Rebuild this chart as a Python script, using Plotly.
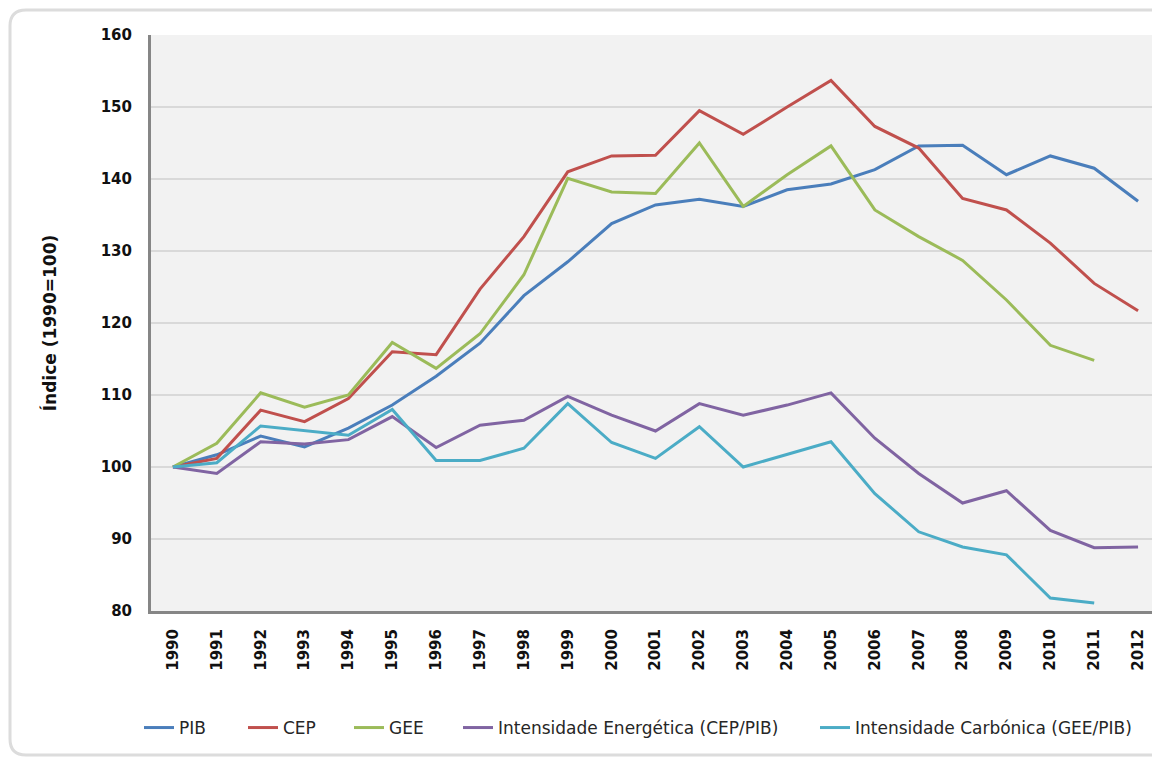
import plotly.graph_objects as go

years = [str(y) for y in range(1990, 2013)]

pib = [100, 101.7, 104.3, 102.8, 105.4, 108.6, 112.6, 117.2, 123.8, 128.5, 133.8, 136.4,
       137.2, 136.2, 138.5, 139.3, 141.3, 144.6, 144.7, 140.6, 143.2, 141.5, 136.9]
cep = [100, 101.2, 107.9, 106.3, 109.5, 116.0, 115.6, 124.7, 132.0, 141.0, 143.2, 143.3,
       149.5, 146.2, 150.0, 153.7, 147.3, 144.3, 137.3, 135.7, 131.1, 125.5, 121.7]
gee = [100, 103.3, 110.3, 108.3, 110.0, 117.3, 113.7, 118.5, 126.7, 140.1, 138.2, 138.0,
       145.0, 136.2, 140.6, 144.6, 135.7, 132.0, 128.7, 123.2, 116.9, 114.8, None]
int_energ = [100, 99.1, 103.5, 103.2, 103.8, 107.0, 102.7, 105.8, 106.5, 109.8, 107.2, 105.0,
             108.8, 107.2, 108.6, 110.3, 104.0, 99.1, 95.0, 96.7, 91.2, 88.8, 88.9]
int_carb = [100, 100.6, 105.7, 105.0, 104.4, 108.0, 100.9, 100.9, 102.6, 108.8, 103.4, 101.2,
            105.6, 100.0, 101.8, 103.5, 96.3, 91.0, 88.9, 87.8, 81.8, 81.1, None]

names = ["PIB", "CEP", "GEE", "Intensidade Energética (CEP/PIB)", "Intensidade Carbónica (GEE/PIB)"]
colors = ["#4a7ebb", "#c0504d", "#9bbb59", "#8064a2", "#4bacc6"]
series = [pib, cep, gee, int_energ, int_carb]

W, H = 1152, 754
L, R, T, B = 143, 0, 27, 151
PW, PH = W - L - R, H - T - B
PLOT_LEFT_PX = L + 8      # page has an 8px body margin
PLOT_BOTTOM_PX = T + 8 + PH

def px(x):
    return (x - PLOT_LEFT_PX) / PW

def py(y):
    return (PLOT_BOTTOM_PX - y) / PH

# legend entry text start positions (page pixels)
legend_text_x = [181, 285, 391, 500, 857]
legend_ids = ["legend", "legend2", "legend3", "legend4", "legend5"]

fig = go.Figure()
for n, c, s, lg in zip(names, colors, series, legend_ids):
    fig.add_trace(go.Scatter(x=years, y=s, name=n, mode="lines", legend=lg,
                             line=dict(color=c, width=3), connectgaps=False))

FAM = "DejaVu Sans, Verdana, sans-serif"
tickfont = dict(family=FAM, size=15, color="#111111", weight="bold")
legfont = dict(family=FAM, size=17, color="#262626")

legends = {}
for lg, tx in zip(legend_ids, legend_text_x):
    legends[lg] = dict(orientation="h", x=px(tx - 42), xanchor="left", y=py(728), yanchor="middle",
                       font=legfont, bgcolor="rgba(0,0,0,0)", borderwidth=0)

fig.update_layout(
    width=W, height=H,
    margin=dict(l=L, r=R, t=T, b=B, autoexpand=False),
    paper_bgcolor="#ffffff",
    plot_bgcolor="#f2f2f2",
    showlegend=True,
    xaxis=dict(type="category", range=[-0.5, 22.5], showgrid=False,
               showline=True, linecolor="#868686", linewidth=3,
               tickangle=-90, tickfont=tickfont, ticks="", ticklabelstandoff=9),
    yaxis=dict(range=[80, 160], dtick=10, tick0=80, showgrid=True, gridcolor="#d9d9d9", gridwidth=2,
               showline=True, linecolor="#868686", linewidth=3, zeroline=False,
               tickfont=tickfont, ticks="", ticklabelstandoff=13,
               title=dict(text="Índice (1990=100)",
                          font=dict(family=FAM, size=17, color="#111111", weight="bold"),
                          standoff=40)),
    **legends,
)

# outer rounded frame
left, top, right, bottom, r = 10, 10, 1185, 755, 16
rx, ry = r / PW, r / PH
path = (f"M {px(left)},{py(bottom) + ry} "
        f"L {px(left)},{py(top) - ry} "
        f"Q {px(left)},{py(top)} {px(left) + rx},{py(top)} "
        f"L {px(right)},{py(top)} "
        f"M {px(left)},{py(bottom) + ry} "
        f"Q {px(left)},{py(bottom)} {px(left) + rx},{py(bottom)} "
        f"L {px(right)},{py(bottom)}")
fig.add_shape(type="path", xref="paper", yref="paper", path=path,
              line=dict(color="#dcdcdc", width=3), layer="below")

fig.write_html("out.html")
